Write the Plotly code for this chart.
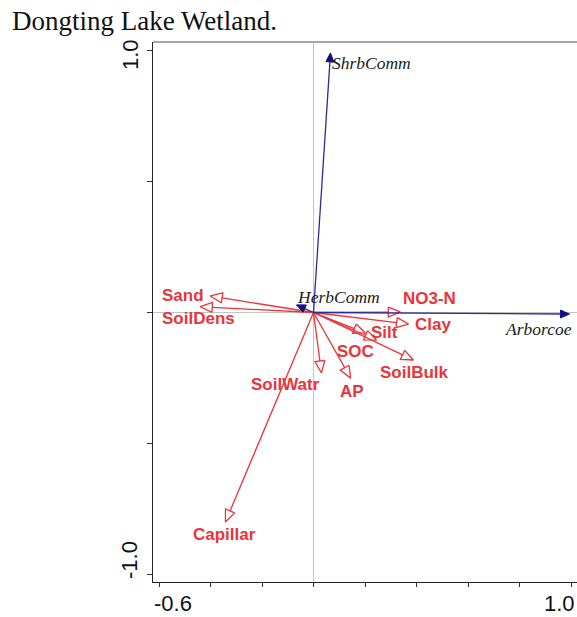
import math
import plotly.graph_objects as go

# Environmental variables (red vectors)
env_names = ["Sand", "SoilDens", "NO3-N", "Clay", "Silt", "SOC",
             "SoilBulk", "SoilWatr", "AP", "Capillar"]
env_x = [-0.401, -0.440, 0.337, 0.369, 0.245, 0.202, 0.388, 0.031, 0.144, -0.342]
env_y = [0.063, 0.022, 0.002, -0.044, -0.105, -0.078, -0.181, -0.230, -0.250, -0.798]

# Community variables (blue vectors)
comm_names = ["ShrbComm", "Arborcoe", "HerbComm"]
comm_x = [0.066, 0.994, -0.066]
comm_y = [0.989, -0.006, 0.029]

# Axis ticks and end labels
x_ticks = [-0.6, -0.4, -0.2, 0.0, 0.2, 0.4, 0.6, 0.8, 1.0]
y_ticks = [-1.0, -0.5, 0.0, 0.5, 1.0]
x_end_labels = ["-0.6", "1.0"]
y_end_labels = ["-1.0", "1.0"]

# ---- layout geometry ----
W, H = 577, 617
M_L, M_R, M_T, M_B = 153, 0, 42, 35
X_RANGE = [-0.6233, 1.0233]
Y_RANGE = [-1.0267, 1.0305]
SX = (W - M_L - M_R) / (X_RANGE[1] - X_RANGE[0])   # px per data unit (x)
SY = (H - M_T - M_B) / (Y_RANGE[1] - Y_RANGE[0])   # px per data unit (y)

RED = "#e8353b"
BLUE_LINE = "#2c2c9c"
BLUE_HEAD = "#12127e"

# label placement relative to vector tips, in px (right, down)
env_label_off = {
    "Sand": (-27, 0), "SoilDens": (-2, 12), "NO3-N": (29, -13), "Clay": (24, 0),
    "Silt": (8, -8), "SOC": (-10, 19), "SoilBulk": (1, 12), "SoilWatr": (-36, 12),
    "AP": (1, 13), "Capillar": (-1, 13),
}
comm_label_off = {"ShrbComm": (41, 10), "Arborcoe": (-31, 15), "HerbComm": (42, -8)}


def arrow_head(x, y, length, half):
    """Return base point and the two back corners of an arrow head at (x, y)."""
    px, py = x * SX, y * SY
    n = math.hypot(px, py)
    ux, uy = px / n, py / n
    bx, by = px - ux * length, py - uy * length
    c1 = ((bx - uy * half) / SX, (by + ux * half) / SY)
    c2 = ((bx + uy * half) / SX, (by - ux * half) / SY)
    return (bx / SX, by / SY), c1, c2


fig = go.Figure()

# red vectors with open heads
for name, x, y in zip(env_names, env_x, env_y):
    base, c1, c2 = arrow_head(x, y, 12, 5)
    fig.add_trace(go.Scatter(
        x=[0, base[0], None, c1[0], x, c2[0], c1[0]],
        y=[0, base[1], None, c1[1], y, c2[1], c1[1]],
        mode="lines", line=dict(color=RED, width=1.3),
        hoverinfo="skip", showlegend=False))

# blue vectors with filled heads
for name, x, y in zip(comm_names, comm_x, comm_y):
    base, c1, c2 = arrow_head(x, y, 9, 4)
    fig.add_trace(go.Scatter(
        x=[0, base[0]], y=[0, base[1]], mode="lines",
        line=dict(color=BLUE_LINE, width=1.3),
        hoverinfo="skip", showlegend=False))
    fig.add_trace(go.Scatter(
        x=[c1[0], x, c2[0], c1[0]], y=[c1[1], y, c2[1], c1[1]],
        mode="lines", fill="toself", fillcolor=BLUE_HEAD,
        line=dict(color=BLUE_HEAD, width=1),
        hoverinfo="skip", showlegend=False))

annotations = []
for name, x, y in zip(env_names, env_x, env_y):
    dx, dy = env_label_off[name]
    annotations.append(dict(
        x=x, y=y, xref="x", yref="y", text="<b>%s</b>" % name,
        showarrow=False, xshift=dx, yshift=-dy,
        xanchor="center", yanchor="middle",
        font=dict(family="Liberation Sans, Arial", size=17, color=RED)))
for name, x, y in zip(comm_names, comm_x, comm_y):
    dx, dy = comm_label_off[name]
    annotations.append(dict(
        x=x, y=y, xref="x", yref="y", text="<i>%s</i>" % name,
        showarrow=False, xshift=dx, yshift=-dy,
        xanchor="center", yanchor="middle",
        font=dict(family="Liberation Serif, Times New Roman", size=17.5, color="#1a1a1a")))

# end labels on the axes
tick_font = dict(family="Liberation Sans, Arial", size=22, color="#111111")
for val, txt, shift in zip([x_ticks[0], x_ticks[-1]], x_end_labels, [14, -12]):
    annotations.append(dict(
        x=val, y=0, xref="x", yref="paper", text=txt, showarrow=False,
        xshift=shift, yshift=-21, xanchor="center", yanchor="middle", font=tick_font))
for val, txt, shift in zip([y_ticks[0], y_ticks[-1]], y_end_labels, [15, -5]):
    annotations.append(dict(
        x=0, y=val, xref="paper", yref="y", text=txt, showarrow=False, textangle=-90,
        xshift=-23, yshift=shift, xanchor="center", yanchor="middle", font=tick_font))

fig.update_layout(
    width=W, height=H,
    margin=dict(l=M_L, r=M_R, t=M_T, b=M_B, pad=0),
    paper_bgcolor="white", plot_bgcolor="white",
    title=dict(text="Dongting Lake Wetland.", xref="container", yref="container",
               x=12 / W, xanchor="left", y=1 - 21 / H, yanchor="middle",
               font=dict(family="Liberation Serif, Times New Roman", size=27, color="#111111")),
    annotations=annotations,
    shapes=[dict(type="line", xref="paper", yref="paper", x0=0, x1=1, y0=1, y1=1,
                 line=dict(color="#8a8a8a", width=1.5))],
    xaxis=dict(range=X_RANGE, tickvals=x_ticks, showticklabels=False,
               ticks="outside", ticklen=4, tickcolor="#333333",
               showline=True, linecolor="#222222", linewidth=1.2,
               showgrid=False, zeroline=True, zerolinecolor="#c4c4c4", zerolinewidth=1),
    yaxis=dict(range=Y_RANGE, tickvals=y_ticks, showticklabels=False,
               ticks="outside", ticklen=5, tickcolor="#333333",
               showline=True, linecolor="#222222", linewidth=1.2,
               showgrid=False, zeroline=True, zerolinecolor="#c4c4c4", zerolinewidth=1),
)

fig.write_html("out.html")
